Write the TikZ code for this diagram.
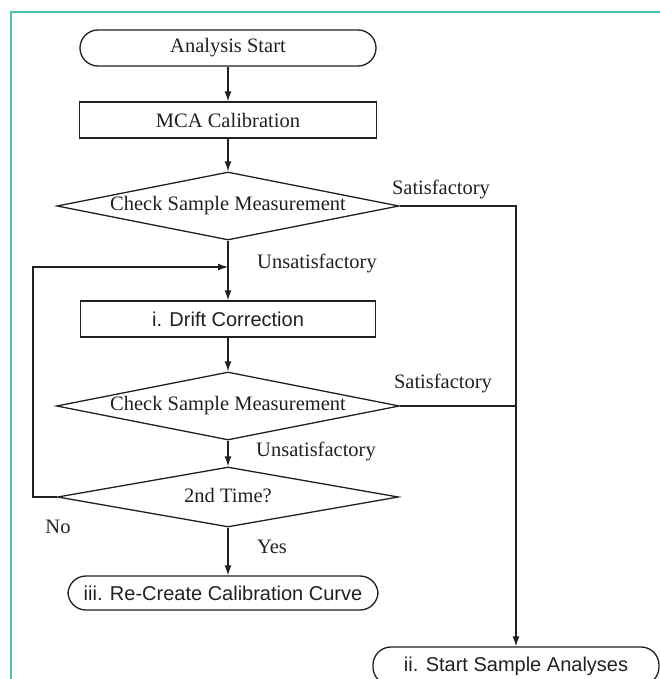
\documentclass[tikz,border=0pt]{standalone}
\usepackage{fontspec}
\setmainfont{Liberation Serif}
\setsansfont{Liberation Sans}
\usetikzlibrary{arrows.meta,shapes.geometric}
\definecolor{frameteal}{RGB}{72,197,172}
\definecolor{ink}{RGB}{32,32,32}
\tikzset{arrow/.style={->, >={Latex[length=10pt, width=7pt]}}}
\tikzset{terminal/.style={draw, rounded corners=18pt, inner sep=0pt, minimum height=36pt,
    font=\sffamily\fontsize{20}{24}\selectfont}}
\tikzset{stepbox/.style={draw, inner sep=0pt, minimum height=36pt}}
\tikzset{check/.style={draw, diamond, aspect=5, inner sep=0pt}}

\begin{document}
\begin{tikzpicture}[x=1pt, y=-1pt, line width=1.3pt, draw=ink, text=ink,
    font=\fontsize{20.5}{24}\selectfont]
    \useasboundingbox (0, 0) rectangle (660, 679);
    \draw[frameteal, line width=1.5pt] (11, 679) -- (11, 12) -- (660, 12);
    \node[terminal, minimum width=296pt, font=\fontsize{20.5}{24}\selectfont] (AS) at (228, 48) {Analysis Start};
    \node[stepbox, minimum width=297pt] (MCA) at (228, 120) {MCA Calibration};
    \node[check, minimum width=342pt, minimum height=68pt] (CSM1) at (228, 206) {Check Sample Measurement};
    \node[stepbox, minimum width=295pt, font=\sffamily\fontsize{20}{24}\selectfont] (DC) at (228, 319) {i. Drift Correction};
    \node[check, minimum width=343pt, minimum height=68pt] (CSM2) at (228, 406) {Check Sample Measurement};
    \node[check, aspect=5.7, minimum width=341pt, minimum height=60pt] (ST) at (228, 497) {\raisebox{4pt}{2nd Time?}};
    \node[terminal, minimum width=310pt, minimum height=34pt] (RCC) at (223, 593) {iii. Re-Create Calibration Curve};
    \node[terminal, minimum width=286pt, minimum height=38pt] (SSA) at (516, 666) {ii. Start Sample Analyses};
    \coordinate (loopTop) at (33, 267);
    \coordinate (loopIn) at (228, 267);
    \draw[arrow] (AS) -- (MCA);
    \draw[arrow] (MCA) -- (CSM1);
    \draw[arrow] (CSM1) -- (DC);
    \draw[arrow] (DC) -- (CSM2);
    \draw[arrow] (CSM2) -- (ST);
    \draw[arrow] (ST) -- (ST |- RCC.north);
    \draw[arrow] (ST.west) -| (loopTop) -- (loopIn);
    \draw[arrow] (CSM1.east) -| (SSA.north);
    \draw (CSM2.east) -- (CSM2.east -| SSA.north);
    \node (sat1) at (441, 189) {Satisfactory};
    \node (uns1) at (317, 263) {Unsatisfactory};
    \node (sat2) at (443, 383) {Satisfactory};
    \node (uns2) at (316, 451) {Unsatisfactory};
    \node (no) at (58, 527) {No};
    \node (yes) at (272, 547) {Yes};
  \end{tikzpicture}
\end{document}
